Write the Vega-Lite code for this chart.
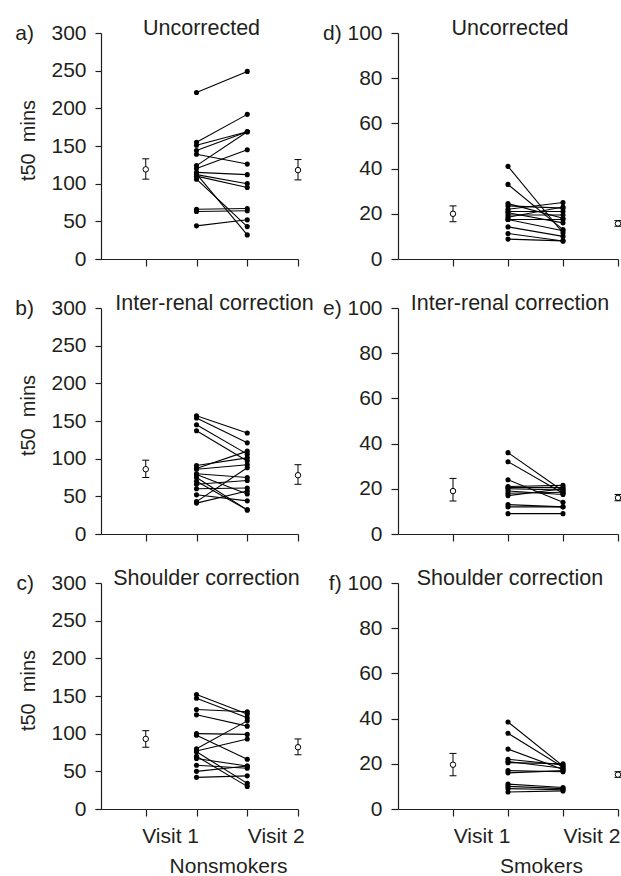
{
"$schema":"https://vega.github.io/schema/vega-lite/v6.json",
"padding":{"left":14,"top":17,"right":0,"bottom":0},
"background":"white",
"datasets":{
"rows":[
{"p":"a","v1":221,"v2":249},{"p":"a","v1":155,"v2":192},{"p":"a","v1":151,"v2":169},{"p":"a","v1":144,"v2":169},{"p":"a","v1":139,"v2":126},{"p":"a","v1":124,"v2":169},{"p":"a","v1":120,"v2":145},{"p":"a","v1":115,"v2":112},{"p":"a","v1":112,"v2":100},{"p":"a","v1":110,"v2":95},{"p":"a","v1":106,"v2":43},{"p":"a","v1":113,"v2":32},{"p":"a","v1":66,"v2":67},{"p":"a","v1":63,"v2":64},{"p":"a","v1":44,"v2":52},
{"p":"b","v1":157,"v2":134},{"p":"b","v1":154,"v2":121},{"p":"b","v1":145,"v2":106},{"p":"b","v1":137,"v2":97},{"p":"b","v1":91,"v2":101},{"p":"b","v1":87,"v2":110},{"p":"b","v1":86,"v2":92},{"p":"b","v1":80,"v2":75},{"p":"b","v1":75,"v2":32},{"p":"b","v1":70,"v2":32},{"p":"b","v1":66,"v2":71},{"p":"b","v1":60,"v2":61},{"p":"b","v1":52,"v2":44},{"p":"b","v1":43,"v2":88},{"p":"b","v1":41,"v2":57},{"p":"b","v1":79,"v2":53},
{"p":"c","v1":152,"v2":126},{"p":"c","v1":147,"v2":121},{"p":"c","v1":132,"v2":129},{"p":"c","v1":125,"v2":110},{"p":"c","v1":100,"v2":99},{"p":"c","v1":98,"v2":66},{"p":"c","v1":80,"v2":117},{"p":"c","v1":77,"v2":93},{"p":"c","v1":76,"v2":34},{"p":"c","v1":70,"v2":30},{"p":"c","v1":67,"v2":57},{"p":"c","v1":58,"v2":54},{"p":"c","v1":50,"v2":57},{"p":"c","v1":42,"v2":44},
{"p":"d","v1":41,"v2":11.5},{"p":"d","v1":33,"v2":13},{"p":"d","v1":24.5,"v2":18},{"p":"d","v1":23.5,"v2":22.5},{"p":"d","v1":22,"v2":25},{"p":"d","v1":21,"v2":21},{"p":"d","v1":20.5,"v2":16},{"p":"d","v1":19.5,"v2":19.5},{"p":"d","v1":18.5,"v2":23},{"p":"d","v1":17.5,"v2":17.5},{"p":"d","v1":14.2,"v2":10},{"p":"d","v1":11.3,"v2":8},{"p":"d","v1":8.8,"v2":8},{"p":"d","v1":17.5,"v2":12.5},
{"p":"e","v1":36,"v2":19},{"p":"e","v1":32,"v2":18},{"p":"e","v1":24,"v2":14},{"p":"e","v1":21,"v2":21.5},{"p":"e","v1":20.5,"v2":20.5},{"p":"e","v1":20,"v2":19.5},{"p":"e","v1":19,"v2":17.5},{"p":"e","v1":18,"v2":18.5},{"p":"e","v1":17,"v2":20},{"p":"e","v1":13,"v2":12},{"p":"e","v1":12,"v2":12},{"p":"e","v1":9,"v2":9},
{"p":"f","v1":38.5,"v2":19},{"p":"f","v1":33.5,"v2":18.5},{"p":"f","v1":26.5,"v2":17.5},{"p":"f","v1":22,"v2":19.5},{"p":"f","v1":21,"v2":18},{"p":"f","v1":20.5,"v2":20},{"p":"f","v1":17,"v2":16.5},{"p":"f","v1":16,"v2":17},{"p":"f","v1":11,"v2":9.5},{"p":"f","v1":10,"v2":9},{"p":"f","v1":9,"v2":8.5},{"p":"f","v1":7.5,"v2":8},
{"p":"a","m1":119,"lo1":106,"hi1":133,"m2":118,"lo2":105,"hi2":132},
{"p":"b","m1":86,"lo1":75,"hi1":98,"m2":78,"lo2":66,"hi2":92},
{"p":"c","m1":93,"lo1":82,"hi1":104,"m2":82,"lo2":72,"hi2":93},
{"p":"d","m1":20,"lo1":16.5,"hi1":23.5,"m2":15.7,"lo2":14.5,"hi2":17},
{"p":"e","m1":19,"lo1":14.6,"hi1":24.6,"m2":16,"lo2":14.7,"hi2":17.5},
{"p":"f","m1":19.6,"lo1":14.7,"hi1":24.6,"m2":15.2,"lo2":14,"hi2":16.5}
]
},
"columns":2,
"bounds":"flush",
"spacing":{"row":49,"column":100},
"concat":[
{"width":203,"height":226,"title":{"text":"Uncorrected","dx":5},"data":{"name":"rows"},"transform":[{"filter":"datum.p == 'a'"}],
"layer":[
{"mark":{"type":"rule","color":"black","strokeWidth":1.1},"encoding":{"x":{"datum":2,"type":"quantitative","scale":{"domain":[0,4]},"axis":{"values":[1,2,3,4],"tickCount":4,"tickSize":7,"labels":false,"title":null}},"x2":{"datum":3},"y":{"field":"v1","type":"quantitative","scale":{"domain":[0,300]},"axis":{"values":[0,50,100,150,200,250,300],"tickCount":7,"offset":-6,"tickSize":6,"labelPadding":9,"labelExpr":"datum.value == 300 ? 'a)\u00a0\u00a0\u00a0300' : datum.label","title":"t50\u00a0\u00a0mins","titleX":-67,"titleY":107,"titleAngle":270,"titleBaseline":"alphabetic","titleAlign":"center","titleFontSize":20}},"y2":{"field":"v2"}}},
{"mark":{"type":"point","filled":true,"color":"black","size":26,"opacity":1},"encoding":{"x":{"datum":2,"type":"quantitative"},"y":{"field":"v1","type":"quantitative"}}},
{"mark":{"type":"point","filled":true,"color":"black","size":26,"opacity":1},"encoding":{"x":{"datum":3,"type":"quantitative"},"y":{"field":"v2","type":"quantitative"}}},
{"mark":{"type":"rule","color":"black","strokeWidth":1},"encoding":{"x":{"datum":1,"type":"quantitative"},"y":{"field":"lo1","type":"quantitative"},"y2":{"field":"hi1"}}},
{"mark":{"type":"tick","orient":"horizontal","size":7,"thickness":1,"color":"black","opacity":1},"encoding":{"x":{"datum":1,"type":"quantitative"},"y":{"field":"lo1","type":"quantitative"}}},
{"mark":{"type":"tick","orient":"horizontal","size":7,"thickness":1,"color":"black","opacity":1},"encoding":{"x":{"datum":1,"type":"quantitative"},"y":{"field":"hi1","type":"quantitative"}}},
{"mark":{"type":"point","filled":true,"fill":"white","stroke":"black","strokeWidth":1,"size":30,"opacity":1},"encoding":{"x":{"datum":1,"type":"quantitative"},"y":{"field":"m1","type":"quantitative"}}},
{"mark":{"type":"rule","color":"black","strokeWidth":1},"encoding":{"x":{"datum":4,"type":"quantitative"},"y":{"field":"lo2","type":"quantitative"},"y2":{"field":"hi2"}}},
{"mark":{"type":"tick","orient":"horizontal","size":7,"thickness":1,"color":"black","opacity":1},"encoding":{"x":{"datum":4,"type":"quantitative"},"y":{"field":"lo2","type":"quantitative"}}},
{"mark":{"type":"tick","orient":"horizontal","size":7,"thickness":1,"color":"black","opacity":1},"encoding":{"x":{"datum":4,"type":"quantitative"},"y":{"field":"hi2","type":"quantitative"}}},
{"mark":{"type":"point","filled":true,"fill":"white","stroke":"black","strokeWidth":1,"size":30,"opacity":1},"encoding":{"x":{"datum":4,"type":"quantitative"},"y":{"field":"m2","type":"quantitative"}}}
]},
{"width":220,"height":226,"title":{"text":"Uncorrected","dx":2},"data":{"name":"rows"},"transform":[{"filter":"datum.p == 'd'"}],
"layer":[
{"mark":{"type":"rule","color":"black","strokeWidth":1.1},"encoding":{"x":{"datum":2,"type":"quantitative","scale":{"domain":[0,4]},"axis":{"values":[1,2,3,4],"tickCount":4,"tickSize":7,"labels":false,"title":null}},"x2":{"datum":3},"y":{"field":"v1","type":"quantitative","scale":{"domain":[0,100]},"axis":{"values":[0,20,40,60,80,100],"tickCount":6,"tickSize":7,"labelPadding":9,"labelExpr":"datum.value == 100 ? 'd)\u00a0100' : datum.label","title":null}},"y2":{"field":"v2"}}},
{"mark":{"type":"point","filled":true,"color":"black","size":26,"opacity":1},"encoding":{"x":{"datum":2,"type":"quantitative"},"y":{"field":"v1","type":"quantitative"}}},
{"mark":{"type":"point","filled":true,"color":"black","size":26,"opacity":1},"encoding":{"x":{"datum":3,"type":"quantitative"},"y":{"field":"v2","type":"quantitative"}}},
{"mark":{"type":"rule","color":"black","strokeWidth":1},"encoding":{"x":{"datum":1,"type":"quantitative"},"y":{"field":"lo1","type":"quantitative"},"y2":{"field":"hi1"}}},
{"mark":{"type":"tick","orient":"horizontal","size":7,"thickness":1,"color":"black","opacity":1},"encoding":{"x":{"datum":1,"type":"quantitative"},"y":{"field":"lo1","type":"quantitative"}}},
{"mark":{"type":"tick","orient":"horizontal","size":7,"thickness":1,"color":"black","opacity":1},"encoding":{"x":{"datum":1,"type":"quantitative"},"y":{"field":"hi1","type":"quantitative"}}},
{"mark":{"type":"point","filled":true,"fill":"white","stroke":"black","strokeWidth":1,"size":30,"opacity":1},"encoding":{"x":{"datum":1,"type":"quantitative"},"y":{"field":"m1","type":"quantitative"}}},
{"mark":{"type":"rule","color":"black","strokeWidth":1},"encoding":{"x":{"datum":4,"type":"quantitative"},"y":{"field":"lo2","type":"quantitative"},"y2":{"field":"hi2"}}},
{"mark":{"type":"tick","orient":"horizontal","size":7,"thickness":1,"color":"black","opacity":1},"encoding":{"x":{"datum":4,"type":"quantitative"},"y":{"field":"lo2","type":"quantitative"}}},
{"mark":{"type":"tick","orient":"horizontal","size":7,"thickness":1,"color":"black","opacity":1},"encoding":{"x":{"datum":4,"type":"quantitative"},"y":{"field":"hi2","type":"quantitative"}}},
{"mark":{"type":"point","filled":true,"fill":"white","stroke":"black","strokeWidth":1,"size":30,"opacity":1},"encoding":{"x":{"datum":4,"type":"quantitative"},"y":{"field":"m2","type":"quantitative"}}}
]},
{"width":203,"height":226,"title":{"text":"Inter-renal correction","dx":18},"data":{"name":"rows"},"transform":[{"filter":"datum.p == 'b'"}],
"layer":[
{"mark":{"type":"rule","color":"black","strokeWidth":1.1},"encoding":{"x":{"datum":2,"type":"quantitative","scale":{"domain":[0,4]},"axis":{"values":[1,2,3,4],"tickCount":4,"tickSize":7,"labels":false,"title":null}},"x2":{"datum":3},"y":{"field":"v1","type":"quantitative","scale":{"domain":[0,300]},"axis":{"values":[0,50,100,150,200,250,300],"tickCount":7,"offset":-6,"tickSize":6,"labelPadding":9,"labelExpr":"datum.value == 300 ? 'b)\u00a0\u00a0\u00a0300' : datum.label","title":"t50\u00a0\u00a0mins","titleX":-67,"titleY":107,"titleAngle":270,"titleBaseline":"alphabetic","titleAlign":"center","titleFontSize":20}},"y2":{"field":"v2"}}},
{"mark":{"type":"point","filled":true,"color":"black","size":26,"opacity":1},"encoding":{"x":{"datum":2,"type":"quantitative"},"y":{"field":"v1","type":"quantitative"}}},
{"mark":{"type":"point","filled":true,"color":"black","size":26,"opacity":1},"encoding":{"x":{"datum":3,"type":"quantitative"},"y":{"field":"v2","type":"quantitative"}}},
{"mark":{"type":"rule","color":"black","strokeWidth":1},"encoding":{"x":{"datum":1,"type":"quantitative"},"y":{"field":"lo1","type":"quantitative"},"y2":{"field":"hi1"}}},
{"mark":{"type":"tick","orient":"horizontal","size":7,"thickness":1,"color":"black","opacity":1},"encoding":{"x":{"datum":1,"type":"quantitative"},"y":{"field":"lo1","type":"quantitative"}}},
{"mark":{"type":"tick","orient":"horizontal","size":7,"thickness":1,"color":"black","opacity":1},"encoding":{"x":{"datum":1,"type":"quantitative"},"y":{"field":"hi1","type":"quantitative"}}},
{"mark":{"type":"point","filled":true,"fill":"white","stroke":"black","strokeWidth":1,"size":30,"opacity":1},"encoding":{"x":{"datum":1,"type":"quantitative"},"y":{"field":"m1","type":"quantitative"}}},
{"mark":{"type":"rule","color":"black","strokeWidth":1},"encoding":{"x":{"datum":4,"type":"quantitative"},"y":{"field":"lo2","type":"quantitative"},"y2":{"field":"hi2"}}},
{"mark":{"type":"tick","orient":"horizontal","size":7,"thickness":1,"color":"black","opacity":1},"encoding":{"x":{"datum":4,"type":"quantitative"},"y":{"field":"lo2","type":"quantitative"}}},
{"mark":{"type":"tick","orient":"horizontal","size":7,"thickness":1,"color":"black","opacity":1},"encoding":{"x":{"datum":4,"type":"quantitative"},"y":{"field":"hi2","type":"quantitative"}}},
{"mark":{"type":"point","filled":true,"fill":"white","stroke":"black","strokeWidth":1,"size":30,"opacity":1},"encoding":{"x":{"datum":4,"type":"quantitative"},"y":{"field":"m2","type":"quantitative"}}}
]},
{"width":220,"height":226,"title":{"text":"Inter-renal correction","dx":2},"data":{"name":"rows"},"transform":[{"filter":"datum.p == 'e'"}],
"layer":[
{"mark":{"type":"rule","color":"black","strokeWidth":1.1},"encoding":{"x":{"datum":2,"type":"quantitative","scale":{"domain":[0,4]},"axis":{"values":[1,2,3,4],"tickCount":4,"tickSize":7,"labels":false,"title":null}},"x2":{"datum":3},"y":{"field":"v1","type":"quantitative","scale":{"domain":[0,100]},"axis":{"values":[0,20,40,60,80,100],"tickCount":6,"tickSize":7,"labelPadding":9,"labelExpr":"datum.value == 100 ? 'e)\u00a0100' : datum.label","title":null}},"y2":{"field":"v2"}}},
{"mark":{"type":"point","filled":true,"color":"black","size":26,"opacity":1},"encoding":{"x":{"datum":2,"type":"quantitative"},"y":{"field":"v1","type":"quantitative"}}},
{"mark":{"type":"point","filled":true,"color":"black","size":26,"opacity":1},"encoding":{"x":{"datum":3,"type":"quantitative"},"y":{"field":"v2","type":"quantitative"}}},
{"mark":{"type":"rule","color":"black","strokeWidth":1},"encoding":{"x":{"datum":1,"type":"quantitative"},"y":{"field":"lo1","type":"quantitative"},"y2":{"field":"hi1"}}},
{"mark":{"type":"tick","orient":"horizontal","size":7,"thickness":1,"color":"black","opacity":1},"encoding":{"x":{"datum":1,"type":"quantitative"},"y":{"field":"lo1","type":"quantitative"}}},
{"mark":{"type":"tick","orient":"horizontal","size":7,"thickness":1,"color":"black","opacity":1},"encoding":{"x":{"datum":1,"type":"quantitative"},"y":{"field":"hi1","type":"quantitative"}}},
{"mark":{"type":"point","filled":true,"fill":"white","stroke":"black","strokeWidth":1,"size":30,"opacity":1},"encoding":{"x":{"datum":1,"type":"quantitative"},"y":{"field":"m1","type":"quantitative"}}},
{"mark":{"type":"rule","color":"black","strokeWidth":1},"encoding":{"x":{"datum":4,"type":"quantitative"},"y":{"field":"lo2","type":"quantitative"},"y2":{"field":"hi2"}}},
{"mark":{"type":"tick","orient":"horizontal","size":7,"thickness":1,"color":"black","opacity":1},"encoding":{"x":{"datum":4,"type":"quantitative"},"y":{"field":"lo2","type":"quantitative"}}},
{"mark":{"type":"tick","orient":"horizontal","size":7,"thickness":1,"color":"black","opacity":1},"encoding":{"x":{"datum":4,"type":"quantitative"},"y":{"field":"hi2","type":"quantitative"}}},
{"mark":{"type":"point","filled":true,"fill":"white","stroke":"black","strokeWidth":1,"size":30,"opacity":1},"encoding":{"x":{"datum":4,"type":"quantitative"},"y":{"field":"m2","type":"quantitative"}}}
]},
{"width":203,"height":226,"title":{"text":"Shoulder correction","dx":10},"data":{"name":"rows"},"transform":[{"filter":"datum.p == 'c'"}],
"layer":[
{"mark":{"type":"rule","color":"black","strokeWidth":1.1},"encoding":{"x":{"datum":2,"type":"quantitative","scale":{"domain":[0,4]},"axis":{"values":[1,2,3,4],"tickCount":4,"tickSize":7,"labelExpr":"datum.value == 2 ? 'Visit 1' : datum.value == 3 ? 'Visit 2' : ''","labelAlign":{"condition":{"test":"datum.value <= 2","value":"right"},"value":"left"},"labelOffset":{"condition":{"test":"datum.value <= 2","value":2},"value":0},"labelPadding":9,"labelBaseline":"top","title":"Nonsmokers","titleX":133,"titleAlign":"center","titlePadding":9}},"x2":{"datum":3},"y":{"field":"v1","type":"quantitative","scale":{"domain":[0,300]},"axis":{"values":[0,50,100,150,200,250,300],"tickCount":7,"offset":-6,"tickSize":6,"labelPadding":9,"labelExpr":"datum.value == 300 ? 'c)\u00a0\u00a0\u00a0300' : datum.label","title":"t50\u00a0\u00a0mins","titleX":-67,"titleY":107,"titleAngle":270,"titleBaseline":"alphabetic","titleAlign":"center","titleFontSize":20}},"y2":{"field":"v2"}}},
{"mark":{"type":"point","filled":true,"color":"black","size":26,"opacity":1},"encoding":{"x":{"datum":2,"type":"quantitative"},"y":{"field":"v1","type":"quantitative"}}},
{"mark":{"type":"point","filled":true,"color":"black","size":26,"opacity":1},"encoding":{"x":{"datum":3,"type":"quantitative"},"y":{"field":"v2","type":"quantitative"}}},
{"mark":{"type":"rule","color":"black","strokeWidth":1},"encoding":{"x":{"datum":1,"type":"quantitative"},"y":{"field":"lo1","type":"quantitative"},"y2":{"field":"hi1"}}},
{"mark":{"type":"tick","orient":"horizontal","size":7,"thickness":1,"color":"black","opacity":1},"encoding":{"x":{"datum":1,"type":"quantitative"},"y":{"field":"lo1","type":"quantitative"}}},
{"mark":{"type":"tick","orient":"horizontal","size":7,"thickness":1,"color":"black","opacity":1},"encoding":{"x":{"datum":1,"type":"quantitative"},"y":{"field":"hi1","type":"quantitative"}}},
{"mark":{"type":"point","filled":true,"fill":"white","stroke":"black","strokeWidth":1,"size":30,"opacity":1},"encoding":{"x":{"datum":1,"type":"quantitative"},"y":{"field":"m1","type":"quantitative"}}},
{"mark":{"type":"rule","color":"black","strokeWidth":1},"encoding":{"x":{"datum":4,"type":"quantitative"},"y":{"field":"lo2","type":"quantitative"},"y2":{"field":"hi2"}}},
{"mark":{"type":"tick","orient":"horizontal","size":7,"thickness":1,"color":"black","opacity":1},"encoding":{"x":{"datum":4,"type":"quantitative"},"y":{"field":"lo2","type":"quantitative"}}},
{"mark":{"type":"tick","orient":"horizontal","size":7,"thickness":1,"color":"black","opacity":1},"encoding":{"x":{"datum":4,"type":"quantitative"},"y":{"field":"hi2","type":"quantitative"}}},
{"mark":{"type":"point","filled":true,"fill":"white","stroke":"black","strokeWidth":1,"size":30,"opacity":1},"encoding":{"x":{"datum":4,"type":"quantitative"},"y":{"field":"m2","type":"quantitative"}}}
]},
{"width":220,"height":226,"title":{"text":"Shoulder correction","dx":2},"data":{"name":"rows"},"transform":[{"filter":"datum.p == 'f'"}],
"layer":[
{"mark":{"type":"rule","color":"black","strokeWidth":1.1},"encoding":{"x":{"datum":2,"type":"quantitative","scale":{"domain":[0,4]},"axis":{"values":[1,2,3,4],"tickCount":4,"tickSize":7,"labelExpr":"datum.value == 2 ? 'Visit 1' : datum.value == 3 ? 'Visit 2' : ''","labelAlign":{"condition":{"test":"datum.value <= 2","value":"right"},"value":"left"},"labelOffset":{"condition":{"test":"datum.value <= 2","value":2},"value":0},"labelPadding":9,"labelBaseline":"top","title":"Smokers","titleX":143,"titleAlign":"center","titlePadding":9}},"x2":{"datum":3},"y":{"field":"v1","type":"quantitative","scale":{"domain":[0,100]},"axis":{"values":[0,20,40,60,80,100],"tickCount":6,"tickSize":7,"labelPadding":9,"labelExpr":"datum.value == 100 ? 'f)\u00a0100' : datum.label","title":null}},"y2":{"field":"v2"}}},
{"mark":{"type":"point","filled":true,"color":"black","size":26,"opacity":1},"encoding":{"x":{"datum":2,"type":"quantitative"},"y":{"field":"v1","type":"quantitative"}}},
{"mark":{"type":"point","filled":true,"color":"black","size":26,"opacity":1},"encoding":{"x":{"datum":3,"type":"quantitative"},"y":{"field":"v2","type":"quantitative"}}},
{"mark":{"type":"rule","color":"black","strokeWidth":1},"encoding":{"x":{"datum":1,"type":"quantitative"},"y":{"field":"lo1","type":"quantitative"},"y2":{"field":"hi1"}}},
{"mark":{"type":"tick","orient":"horizontal","size":7,"thickness":1,"color":"black","opacity":1},"encoding":{"x":{"datum":1,"type":"quantitative"},"y":{"field":"lo1","type":"quantitative"}}},
{"mark":{"type":"tick","orient":"horizontal","size":7,"thickness":1,"color":"black","opacity":1},"encoding":{"x":{"datum":1,"type":"quantitative"},"y":{"field":"hi1","type":"quantitative"}}},
{"mark":{"type":"point","filled":true,"fill":"white","stroke":"black","strokeWidth":1,"size":30,"opacity":1},"encoding":{"x":{"datum":1,"type":"quantitative"},"y":{"field":"m1","type":"quantitative"}}},
{"mark":{"type":"rule","color":"black","strokeWidth":1},"encoding":{"x":{"datum":4,"type":"quantitative"},"y":{"field":"lo2","type":"quantitative"},"y2":{"field":"hi2"}}},
{"mark":{"type":"tick","orient":"horizontal","size":7,"thickness":1,"color":"black","opacity":1},"encoding":{"x":{"datum":4,"type":"quantitative"},"y":{"field":"lo2","type":"quantitative"}}},
{"mark":{"type":"tick","orient":"horizontal","size":7,"thickness":1,"color":"black","opacity":1},"encoding":{"x":{"datum":4,"type":"quantitative"},"y":{"field":"hi2","type":"quantitative"}}},
{"mark":{"type":"point","filled":true,"fill":"white","stroke":"black","strokeWidth":1,"size":30,"opacity":1},"encoding":{"x":{"datum":4,"type":"quantitative"},"y":{"field":"m2","type":"quantitative"}}}
]}
],
"config":{
"font":"Liberation Sans",
"view":{"stroke":null},
"axis":{"labelFont":"Liberation Sans","titleFont":"Liberation Sans","labelFontSize":21,"titleFontSize":21,"titleFontWeight":"normal","labelColor":"#231f20","titleColor":"#231f20","domainColor":"#231f20","tickColor":"#231f20","domainWidth":1.2,"tickWidth":1.2,"grid":false,"labelFlush":false,"labelOverlap":false},
"title":{"font":"Liberation Sans","fontSize":21.5,"fontWeight":"normal","color":"#231f20","baseline":"alphabetic","offset":-17,"frame":"group","anchor":"middle"}
}
}
